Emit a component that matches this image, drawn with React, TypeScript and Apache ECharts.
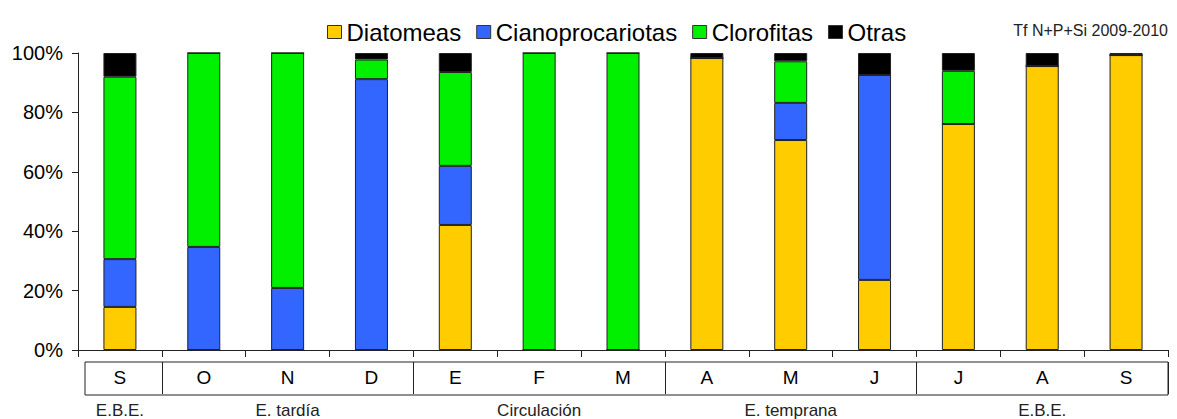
import React, { useEffect, useRef } from "react";
import * as echarts from "echarts";

const months = ["S", "O", "N", "D", "E", "F", "M", "A", "M", "J", "J", "A", "S"];
const groupLabels = ["E.B.E.", "", "E. tardía", "", "", "Circulación", "", "", "E. temprana", "", "", "E.B.E.", ""];
const groupStarts = [1, 4, 7, 10];

const diatomeas = [14.5, 0, 0, 0, 42.1, 0, 0, 98.3, 70.7, 23.6, 76.1, 95.6, 99.3];
const cianoprocariotas = [16.1, 34.7, 20.9, 91.2, 19.9, 0, 0, 0, 12.5, 69.0, 0, 0, 0];
const clorofitas = [61.4, 65.3, 79.1, 6.6, 31.6, 100, 100, 0, 14.0, 0, 17.9, 0, 0];
const otras = [8.0, 0, 0, 2.2, 6.4, 0, 0, 1.7, 2.8, 7.4, 6.0, 4.4, 0.7];

const yTicks = [0, 20, 40, 60, 80, 100];

export default function App() {
  const ref = useRef<HTMLDivElement>(null);
  useEffect(() => {
    if (!ref.current) return;
    const chart = echarts.init(ref.current, null, { renderer: "svg" });
    const font = "Arial, 'Liberation Sans', sans-serif";
    const mk = (name: string, data: number[], color: string) => ({
      name,
      type: "bar",
      stack: "total",
      data,
      barWidth: 33,
      xAxisIndex: 0,
      yAxisIndex: 0,
      itemStyle: { color, borderColor: "#222", borderWidth: 1 },
    });
    chart.setOption({
      animation: false,
      textStyle: { fontFamily: font },
      title: {
        text: "Tf N+P+Si 2009-2010",
        right: 4,
        top: 17,
        textStyle: { fontSize: 16, fontWeight: "normal", color: "#222", fontFamily: font },
      },
      legend: {
        left: 322,
        top: 15,
        itemWidth: 14,
        itemHeight: 13,
        itemGap: 15,
        icon: "rect",
        textStyle: { fontSize: 24, color: "#000", fontFamily: font, padding: [0, 0, 0, 0] },
        data: ["Diatomeas", "Cianoprocariotas", "Clorofitas", "Otras"],
        itemStyle: { borderColor: "#333", borderWidth: 1 },
      },
      graphic: [
        {
          type: "rect",
          shape: { x: 85, y: 362, width: 1083, height: 33 },
          style: { fill: "none", stroke: "#222", lineWidth: 1 },
          silent: true,
        },
      ],
      grid: [
        { left: 78, right: 9, top: 53, bottom: 69, containLabel: false },
        { left: 78, right: 9, top: 362, height: 33, show: false },
      ],
      xAxis: [
        {
          type: "category",
          gridIndex: 0,
          data: months,
          axisLine: { show: true, lineStyle: { color: "#222", width: 1 } },
          axisTick: { show: true, length: 7, lineStyle: { color: "#222" } },
          axisLabel: { show: false },
        },
        {
          type: "category",
          gridIndex: 1,
          data: months,
          position: "bottom",
          axisLine: { show: false },
          axisTick: { show: false },
          axisLabel: { show: true, margin: -26, fontSize: 19, color: "#000", fontFamily: font },
          splitLine: {
            show: true,
            interval: (index: number) => groupStarts.indexOf(index) >= 0,
            lineStyle: { color: "#222", width: 1 },
          },
        },
        {
          type: "category",
          gridIndex: 1,
          data: groupLabels,
          position: "bottom",
          axisLine: { show: false },
          axisTick: { show: false },
          axisLabel: { show: true, interval: 0, margin: 8, fontSize: 17, color: "#222", fontFamily: font },
        },
      ],
      yAxis: [
        {
          type: "value",
          gridIndex: 0,
          min: 0,
          max: 100,
          interval: 20,
          axisLine: { show: true, lineStyle: { color: "#222" } },
          axisTick: { show: true, length: 6, lineStyle: { color: "#222" } },
          axisLabel: {
            fontSize: 20,
            color: "#000",
            margin: 15,
            fontFamily: font,
            formatter: (v: number) => (yTicks.indexOf(v) >= 0 ? v + "%" : ""),
          },
          splitLine: { show: false },
        },
        {
          type: "value",
          gridIndex: 1,
          show: false,
        },
      ],
      series: [
        mk("Diatomeas", diatomeas, "#FFCC00"),
        mk("Cianoprocariotas", cianoprocariotas, "#3366FF"),
        mk("Clorofitas", clorofitas, "#00F000"),
        mk("Otras", otras, "#000000"),
      ],
    });
    return () => chart.dispose();
  }, []);
  return (
    <div
      ref={ref}
      style={{ position: "fixed", left: 0, top: 0, width: 1177, height: 419, background: "#fff" }}
    />
  );
}
